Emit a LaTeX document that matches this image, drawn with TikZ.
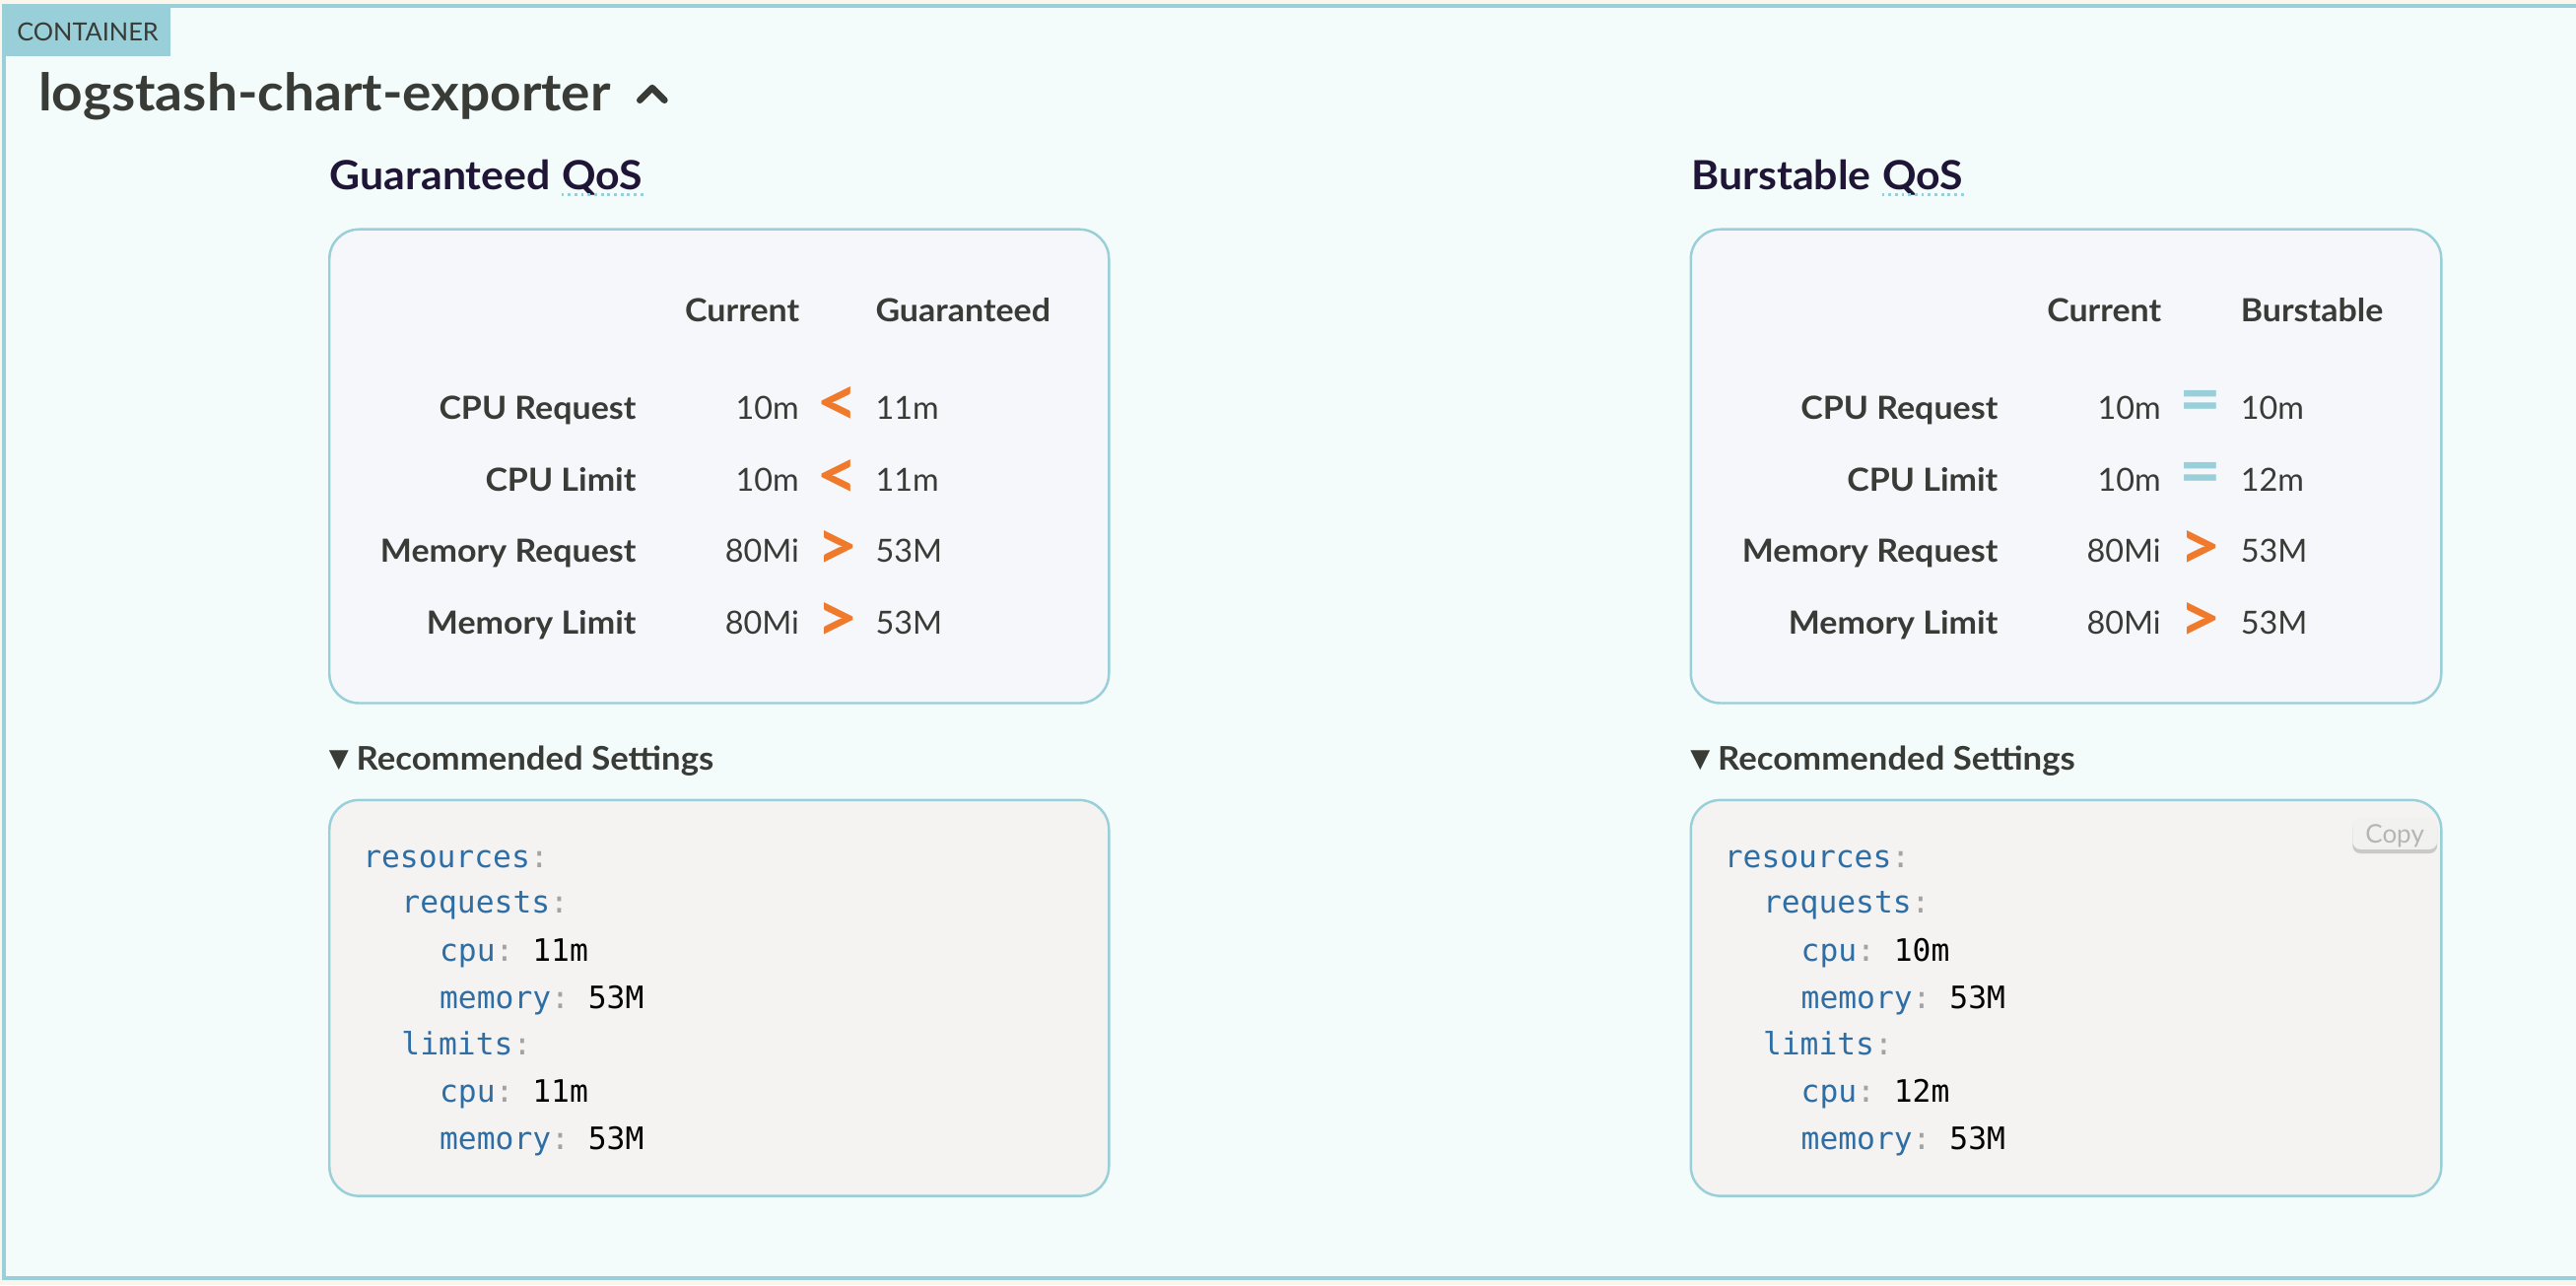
\documentclass[tikz,border=0pt]{standalone}
\usepackage{fontspec}
\setmainfont{Lato}[BoldFeatures={FakeStretch=1.05}]
\newfontfamily\codefont{DejaVu Sans Mono}
\newfontfamily\glyphfont{DejaVu Sans}
\usetikzlibrary{positioning}

\definecolor{page}{HTML}{FCF5EC}
\definecolor{panel}{HTML}{F3FCFB}
\definecolor{frame}{HTML}{99CFD8}
\definecolor{tablefill}{HTML}{F6F7FB}
\definecolor{codefill}{HTML}{F4F3F1}
\definecolor{ink}{HTML}{393B37}
\definecolor{headink}{HTML}{1F1536}
\definecolor{warn}{HTML}{F07A2C}
\definecolor{codekey}{HTML}{2F6EA5}
\definecolor{codepunct}{HTML}{A3A3A3}
\definecolor{copyink}{HTML}{B5B5B3}
\definecolor{copyface}{HTML}{F1F1F0}
\definecolor{copyshade}{HTML}{C9C9C7}

\newcommand{\ky}[1]{\textcolor{codekey}{#1}\textcolor{codepunct}{:}}

\begin{document}
\begin{tikzpicture}[x=0.016667cm, y=-0.016667cm,
    lbl/.style={inner sep=0pt, text=ink, font=\bfseries\fontsize{9.2}{11}\selectfont},
    val/.style={inner sep=0pt, text=ink, font=\fontsize{9.2}{11}\selectfont},
    rel/.style={inner sep=0pt, font=\bfseries\fontsize{20}{22}\selectfont},
    qos/.style={inner sep=0pt, text=headink, font=\bfseries\fontsize{11.6}{13}\selectfont},
    qosline/.style={frame, line width=0.9pt, dash pattern=on 0.8pt off 1.1pt},
    card/.style={draw=frame, line width=0.7pt, rounded corners=0.3cm},
    code/.style={inner sep=0pt, text=black, font=\codefont\frenchspacing\fontsize{8.9}{10}\selectfont},
    rec/.style={inner sep=0pt, text=ink, font=\bfseries\fontsize{9.4}{11}\selectfont},
    tri/.style={inner sep=0pt, text=ink, font=\glyphfont\fontsize{7.4}{8}\selectfont}]
  \useasboundingbox (0,0) rectangle (1568,782.4);
  \fill[page] (0,0) rectangle (1568,782.4);
  \filldraw[fill=panel, draw=frame, line width=1.1pt] (1575,3.6) -- (2.4,3.6) -- (2.4,778) -- (1575,778);

  % header
  \node[fill=frame, minimum width=1.685cm, minimum height=0.487cm, anchor=north west, inner sep=0pt,
        text=ink, font=\fontsize{7.2}{8}\selectfont] (tab) at (2.4,4.4) {CONTAINER};
  \node[anchor=base west, inner sep=0pt, text=ink, font=\bfseries\fontsize{14.9}{17}\selectfont] (title) at (23,67.6) {logstash-chart-exporter};
  \draw[ink, line width=1.9pt, line cap=round, line join=round] (389.5,61) -- (397,53.5) -- (404.5,61);

  % guaranteed side
  \node[qos, anchor=base west] (gqa) at (200.5,115.6) {Guaranteed};
  \node[qos, base right=2.9pt of gqa] (gqb) {QoS};
  \draw[qosline] ([yshift=-0.045cm]gqb.base west) -- ([yshift=-0.045cm]gqb.base east);
  \draw[card, fill=tablefill] (200.5,139.6) rectangle (675,428);
  \node[lbl, anchor=base east] (gcur) at (487,196) {Current};
  \node[lbl, anchor=base west] (gtgt) at (532.6,196) {Guaranteed};
  \foreach \y/\name/\cur/\sym/\tint/\new [count=\i] in
      {255/CPU Request/10m/</warn/11m, 299/CPU Limit/10m/</warn/11m,
       342.5/Memory Request/80Mi/>/warn/53M, 386/Memory Limit/80Mi/>/warn/53M}{
    \node[lbl, anchor=base east] (gl\i) at (387.6,\y) {\name};
    \node[val, anchor=base east] (gc\i) at (486.8,\y) {\cur};
    \node[rel, text=\tint] (gs\i) at (509.8,\y-7.4) {\sym};
    \node[val, anchor=base west] (gn\i) at (532.6,\y) {\new};
  }
  \node[tri] (gtri) at (206.3,463) {▼};
  \node[rec, anchor=base west] (grec) at (216.5,469) {Recommended Settings};
  \draw[card, fill=codefill] (200.5,487) rectangle (675,728);
  \foreach \y/\x/\txt [count=\i] in
      {528/20/{\ky{resources}}, 556/43.5/{\ky{requests}}, 585/66.7/{\ky{cpu} 11m},
       614/66.7/{\ky{memory} 53M}, 642/43.5/{\ky{limits}}, 671/66.7/{\ky{cpu} 11m},
       700/66.7/{\ky{memory} 53M}}
    \node[code, anchor=base west] (gk\i) at (200.5+\x,\y) {\txt};

  % burstable side
  \node[qos, anchor=base west] (bqa) at (1029.2,115.6) {Burstable};
  \node[qos, base right=2.9pt of bqa] (bqb) {QoS};
  \draw[qosline] ([yshift=-0.045cm]bqb.base west) -- ([yshift=-0.045cm]bqb.base east);
  \draw[card, fill=tablefill] (1029.2,139.6) rectangle (1486,428);
  \node[lbl, anchor=base east] (bcur) at (1316,196) {Current};
  \node[lbl, anchor=base west] (btgt) at (1363.5,196) {Burstable};
  \foreach \y/\name/\cur/\sym/\tint/\new [count=\i] in
      {255/CPU Request/10m/=/frame/10m, 299/CPU Limit/10m/=/frame/12m,
       342.5/Memory Request/80Mi/>/warn/53M, 386/Memory Limit/80Mi/>/warn/53M}{
    \node[lbl, anchor=base east] (bl\i) at (1216.5,\y) {\name};
    \node[val, anchor=base east] (bc\i) at (1315.7,\y) {\cur};
    \node[rel, text=\tint] (bs\i) at (1339.5,\y-7.4) {\sym};
    \node[val, anchor=base west] (bn\i) at (1363.5,\y) {\new};
  }
  \node[tri] (btri) at (1035,463) {▼};
  \node[rec, anchor=base west] (brec) at (1045.2,469) {Recommended Settings};
  \draw[card, fill=codefill] (1029.2,487) rectangle (1486,728);
  \foreach \y/\x/\txt [count=\i] in
      {528/20/{\ky{resources}}, 556/43.5/{\ky{requests}}, 585/66.7/{\ky{cpu} 10m},
       614/66.7/{\ky{memory} 53M}, 642/43.5/{\ky{limits}}, 671/66.7/{\ky{cpu} 12m},
       700/66.7/{\ky{memory} 53M}}
    \node[code, anchor=base west] (bk\i) at (1029.2+\x,\y) {\txt};
  \fill[copyshade, rounded corners=0.08cm] (1432,499) rectangle (1483.5,519.5);
  \fill[copyface, rounded corners=0.08cm] (1432,497.5) rectangle (1483.5,517);
  \node[inner sep=0pt, text=copyink, font=\fontsize{7.4}{8}\selectfont, anchor=base] (copy) at (1457.7,513) {Copy};
\end{tikzpicture}
\end{document}
